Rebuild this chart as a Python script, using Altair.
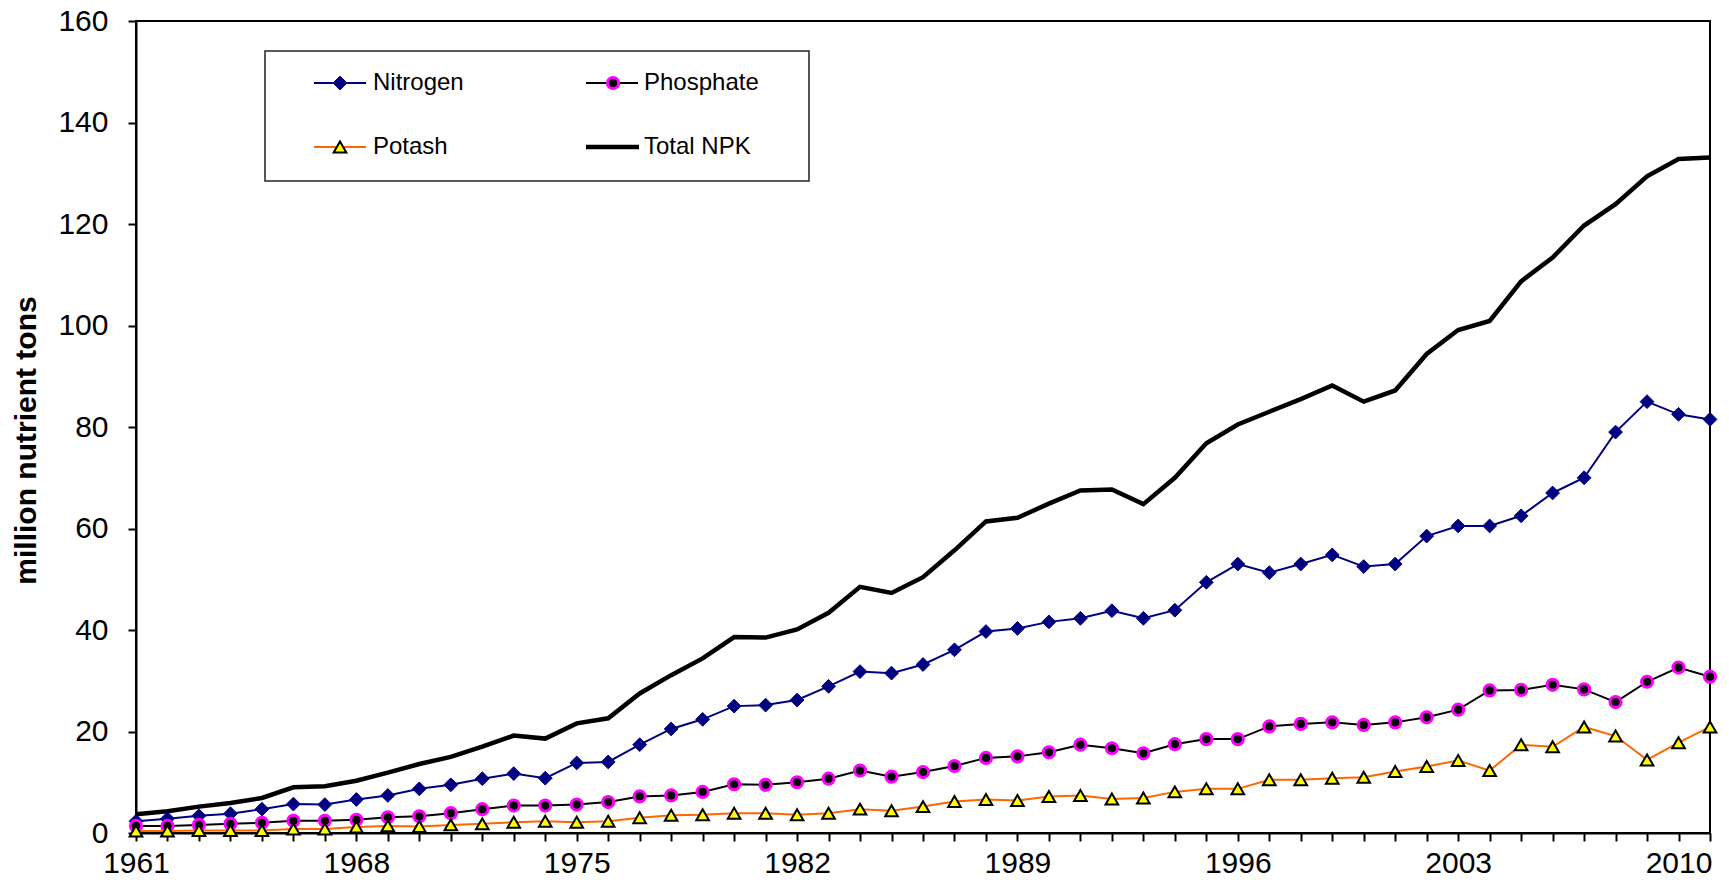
import altair as alt
import pandas as pd

years = list(range(1961, 2012))

nitrogen = [2.3, 2.8, 3.4, 3.8, 4.7, 5.7, 5.6, 6.6, 7.4, 8.7,
            9.5, 10.7, 11.7, 10.8, 13.8, 14.0, 17.4, 20.5, 22.4, 25.0,
            25.2, 26.2, 28.9, 31.8, 31.5, 33.2, 36.1, 39.7, 40.3, 41.6,
            42.3, 43.8, 42.3, 43.9, 49.4, 53.0, 51.3, 53.0, 54.8, 52.5,
            53.0, 58.5, 60.5, 60.5, 62.5, 67.0, 70.0, 79.0, 85.0, 82.5, 81.5]

phosphate = [1.4, 1.4, 1.6, 1.8, 2.0, 2.4, 2.4, 2.6, 3.1, 3.3,
             3.9, 4.7, 5.4, 5.4, 5.6, 6.1, 7.2, 7.4, 8.1, 9.6,
             9.5, 10.0, 10.7, 12.3, 11.1, 12.0, 13.2, 14.8, 15.1, 15.9,
             17.4, 16.7, 15.7, 17.5, 18.5, 18.5, 21.0, 21.5, 21.8, 21.3,
             21.8, 22.8, 24.3, 28.1, 28.2, 29.2, 28.3, 25.8, 29.8, 32.6, 30.8]

potash = [0.4, 0.4, 0.5, 0.5, 0.5, 0.8, 0.8, 1.2, 1.4, 1.3,
          1.6, 1.8, 2.1, 2.3, 2.1, 2.3, 3.0, 3.5, 3.6, 3.9,
          3.9, 3.6, 3.9, 4.7, 4.4, 5.2, 6.2, 6.6, 6.4, 7.2,
          7.4, 6.7, 6.9, 8.1, 8.7, 8.7, 10.5, 10.5, 10.8, 11.0,
          12.1, 13.1, 14.3, 12.3, 17.4, 17.0, 20.9, 19.1, 14.4, 17.8, 20.9]

total_npk = [3.7, 4.3, 5.2, 5.9, 6.9, 9.0, 9.2, 10.3, 11.9, 13.6,
             15.0, 17.0, 19.2, 18.6, 21.6, 22.6, 27.5, 31.1, 34.4, 38.6,
             38.5, 40.1, 43.4, 48.5, 47.3, 50.4, 55.7, 61.4, 62.1, 64.9,
             67.5, 67.7, 64.8, 70.0, 76.8, 80.5, 83.0, 85.5, 88.2, 85.0,
             87.2, 94.4, 99.1, 100.9, 108.7, 113.4, 119.7, 123.9, 129.4, 132.8, 133.1]

series_names = ["Nitrogen", "Phosphate", "Potash", "Total NPK"]
y_tick_values = [0, 20, 40, 60, 80, 100, 120, 140, 160]
y_title = "million nutrient tons"

rows = []
for name, vals in zip(series_names, [nitrogen, phosphate, potash, total_npk]):
    for yr, v in zip(years, vals):
        rows.append({"year": yr, "series": name, "value": v})
df = pd.DataFrame(rows)

FONT = "Liberation Sans"

x_enc = alt.X(
    "year:Q",
    scale=alt.Scale(domain=[1961, 2011], nice=False, zero=False),
    axis=alt.Axis(
        values=years, labelExpr="(datum.value - 1961) % 7 == 0 ? datum.value : ''",
        format="d", grid=False, tickSize=8, tickWidth=2, tickColor="black",
        domainColor="black", domainWidth=2, labelFont=FONT, labelFontSize=30,
        labelColor="black", labelPadding=7, labelFlush=False, labelOverlap=False,
        title=None,
    ),
)
y_enc = alt.Y(
    "value:Q",
    scale=alt.Scale(domain=[0, 160], nice=False),
    axis=alt.Axis(
        values=y_tick_values, grid=False, tickSize=8, tickWidth=2, tickColor="black",
        domainColor="black", domainWidth=2, labelFont=FONT, labelFontSize=30,
        labelColor="black", labelPadding=20, title=y_title, titleFont=FONT,
        titleFontSize=30, titleFontWeight="bold", titleColor="black",
        titleAngle=-90, titleX=-110, titleY=419, titleAlign="center",
        titleBaseline="middle",
    ),
)

base = alt.Chart(df).encode(x=x_enc, y=y_enc)

def sel(name):
    return base.transform_filter(alt.datum.series == name)

N_COLOR = "#000080"
K_COLOR = "#FF6600"

total_line = sel("Total NPK").mark_line(color="black", strokeWidth=4.5)
n_line = sel("Nitrogen").mark_line(color=N_COLOR, strokeWidth=2)
n_pts = sel("Nitrogen").mark_point(shape="diamond", filled=True, fill=N_COLOR,
                                   stroke=N_COLOR, strokeWidth=1, size=190, opacity=1)
p_line = sel("Phosphate").mark_line(color="black", strokeWidth=2)
p_pts = sel("Phosphate").mark_point(shape="circle", filled=True, fill="black",
                                    stroke="#FF00FF", strokeWidth=3, size=125, opacity=1)
k_line = sel("Potash").mark_line(color=K_COLOR, strokeWidth=2)
k_pts = sel("Potash").mark_point(shape="triangle-up", filled=True, fill="#FFFF00",
                                 stroke="black", strokeWidth=2, size=160, opacity=1)

one = alt.Data(values=[{"k": 1}])

leg_box = alt.Chart(one).mark_rect(fill="white", stroke="#222222", strokeWidth=1.5).encode(
    x=alt.value(129), x2=alt.value(673), y=alt.value(30), y2=alt.value(160))

def leg_rule(x1, x2, y, color, w):
    return alt.Chart(one).mark_rule(color=color, strokeWidth=w).encode(
        x=alt.value(x1), x2=alt.value(x2), y=alt.value(y))

def leg_text(x, y, txt):
    return alt.Chart(one).mark_text(text=txt, font=FONT, fontSize=24, align="left",
                                    baseline="middle", color="black").encode(
        x=alt.value(x), y=alt.value(y))

leg_n_line = leg_rule(178, 230, 62, N_COLOR, 2)
leg_n_pt = alt.Chart(one).mark_point(shape="diamond", filled=True, fill=N_COLOR,
                                     stroke=N_COLOR, strokeWidth=1, size=190, opacity=1).encode(
    x=alt.value(204), y=alt.value(62))
leg_p_line = leg_rule(450, 502, 62, "black", 2)
leg_p_pt = alt.Chart(one).mark_point(shape="circle", filled=True, fill="black",
                                     stroke="#FF00FF", strokeWidth=3, size=125, opacity=1).encode(
    x=alt.value(477), y=alt.value(62))
leg_k_line = leg_rule(178, 230, 126, K_COLOR, 2)
leg_k_pt = alt.Chart(one).mark_point(shape="triangle-up", filled=True, fill="#FFFF00",
                                     stroke="black", strokeWidth=2, size=160, opacity=1).encode(
    x=alt.value(204), y=alt.value(126))
leg_t_line = leg_rule(450, 503, 126, "black", 4.5)

texts = [leg_text(237, 62, series_names[0]), leg_text(508, 62, series_names[1]),
         leg_text(237, 126, series_names[2]), leg_text(508, 126, series_names[3])]

chart = alt.layer(
    total_line, n_line, n_pts, p_line, p_pts, k_line, k_pts,
    leg_box, leg_n_line, leg_n_pt, leg_p_line, leg_p_pt, leg_k_line, leg_k_pt, leg_t_line,
    *texts,
).properties(
    width=1574, height=812,
    padding={"left": 128, "top": 13, "right": 11, "bottom": 45},
    autosize=alt.AutoSizeParams(type="none"),
    background="white",
).configure_view(stroke="black", strokeWidth=2)

chart.save("out.html", embed_options={"renderer": "svg", "actions": False})
